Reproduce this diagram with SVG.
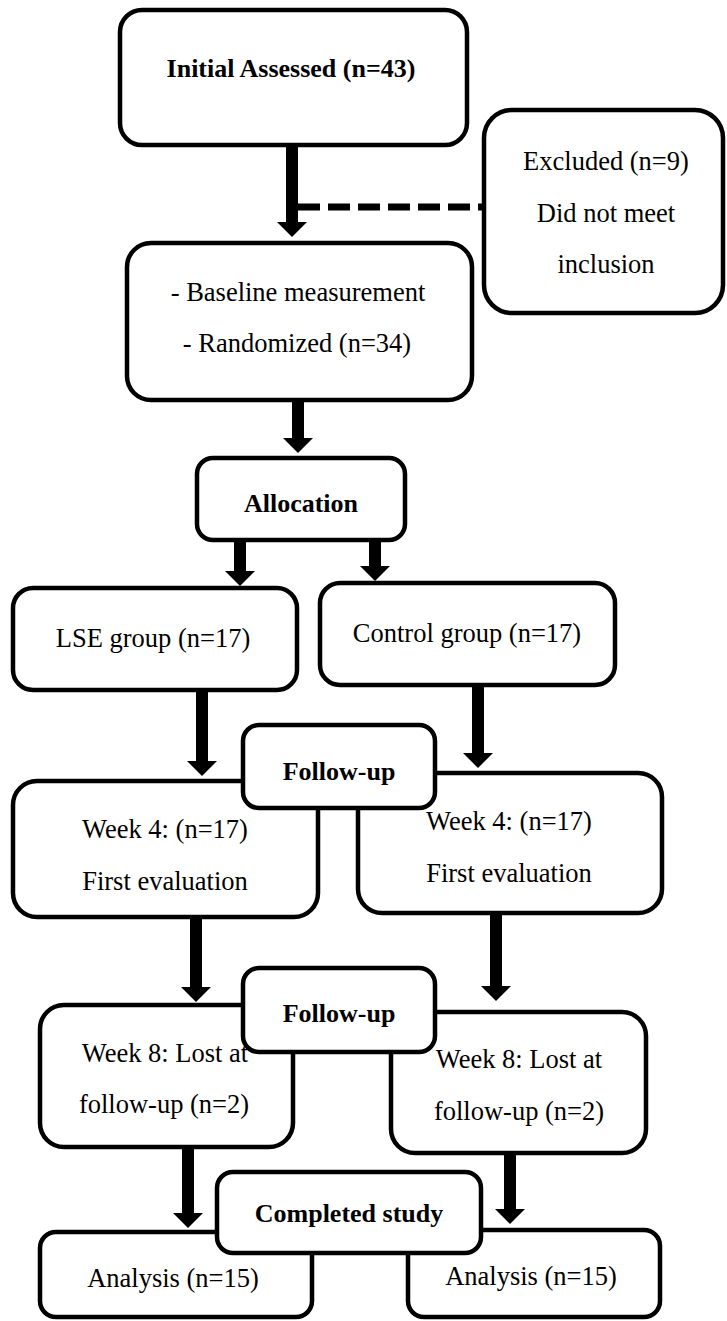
<svg xmlns="http://www.w3.org/2000/svg" width="727" height="1321" viewBox="0 0 727 1321">
<style>
.box{fill:#fff;stroke:#000;stroke-width:4.5}
.t{font-family:"Liberation Serif","Times New Roman",serif;font-size:26.5px;fill:#000;text-anchor:middle}
.b{font-weight:bold;font-size:26px}
.arr{stroke:#000;stroke-width:12;fill:none}
.dash{stroke:#000;stroke-width:7;stroke-dasharray:22 8;fill:none}
</style>
<defs>
<marker id="head" markerUnits="userSpaceOnUse" viewBox="0 -16 16 32" refX="0" refY="0" markerWidth="16" markerHeight="32" orient="auto">
<path d="M0,-15 L15,0 L0,15 Z" fill="#000"/>
</marker>
</defs>
<rect width="727" height="1321" fill="#fff"/>

<g id="n-initial">
<rect class="box" x="120" y="10" width="347" height="135" rx="22"/>
<text class="t b" x="291" y="77">Initial Assessed  (n=43)</text>
</g>
<g id="n-excluded">
<rect class="box" x="484" y="110" width="239" height="203" rx="28"/>
<text class="t" x="606" y="170">Excluded (n=9)</text>
<text class="t" x="606" y="222">Did not meet</text>
<text class="t" x="606" y="273">inclusion</text>
</g>
<g id="n-baseline">
<rect class="box" x="127" y="243" width="345" height="157" rx="24"/>
<text class="t" x="298" y="301">- Baseline measurement</text>
<text class="t" x="297" y="352">- Randomized (n=34)</text>
</g>
<g id="n-allocation">
<rect class="box" x="197" y="458" width="208" height="82" rx="16"/>
<text class="t b" x="301" y="512">Allocation</text>
</g>
<g id="n-lse">
<rect class="box" x="13" y="588" width="284" height="102" rx="20"/>
<text class="t" x="153" y="647">LSE group (n=17)</text>
</g>
<g id="n-control">
<rect class="box" x="320" y="583" width="295" height="102" rx="20"/>
<text class="t" x="467" y="642">Control group (n=17)</text>
</g>
<g id="n-week4-left">
<rect class="box" x="13" y="781" width="305" height="136" rx="24"/>
<text class="t" x="165" y="838">Week 4: (n=17)</text>
<text class="t" x="165" y="890">First evaluation</text>
</g>
<g id="n-week4-right">
<rect class="box" x="358" y="773" width="304" height="140" rx="24"/>
<text class="t" x="509" y="830">Week 4: (n=17)</text>
<text class="t" x="509" y="882">First evaluation</text>
</g>
<g id="n-followup1">
<rect class="box" x="243" y="725" width="192" height="83" rx="16"/>
<text class="t b" x="339" y="780">Follow-up</text>
</g>
<g id="n-week8-left">
<rect class="box" x="40" y="1005" width="253" height="142" rx="24"/>
<text class="t" x="165" y="1062">Week 8: Lost at</text>
<text class="t" x="164" y="1113">follow-up (n=2)</text>
</g>
<g id="n-week8-right">
<rect class="box" x="391" y="1012" width="255" height="141" rx="24"/>
<text class="t" x="519" y="1068">Week 8: Lost at</text>
<text class="t" x="519" y="1120">follow-up (n=2)</text>
</g>
<g id="n-followup2">
<rect class="box" x="243" y="968" width="192" height="84" rx="16"/>
<text class="t b" x="339" y="1022">Follow-up</text>
</g>
<g id="n-analysis-left">
<rect class="box" x="40" y="1232" width="272" height="85" rx="16"/>
<text class="t" x="173" y="1287">Analysis (n=15)</text>
</g>
<g id="n-analysis-right">
<rect class="box" x="408" y="1230" width="252" height="87" rx="16"/>
<text class="t" x="531" y="1285">Analysis (n=15)</text>
</g>
<g id="n-completed">
<rect class="box" x="217" y="1172" width="264" height="81" rx="16"/>
<text class="t b" x="349" y="1222">Completed study</text>
</g>

<g id="connectors">
<line class="dash" x1="298" y1="207" x2="484" y2="207"/>
<line class="arr" x1="292" y1="145" x2="292" y2="222" marker-end="url(#head)"/>
<line class="arr" x1="298" y1="400" x2="298" y2="438" marker-end="url(#head)"/>
<line class="arr" x1="240" y1="540" x2="240" y2="571" marker-end="url(#head)"/>
<line class="arr" x1="375" y1="540" x2="375" y2="566" marker-end="url(#head)"/>
<line class="arr" x1="202" y1="690" x2="202" y2="761" marker-end="url(#head)"/>
<line class="arr" x1="478" y1="685" x2="478" y2="753" marker-end="url(#head)"/>
<line class="arr" x1="196" y1="917" x2="196" y2="987" marker-end="url(#head)"/>
<line class="arr" x1="496" y1="913" x2="496" y2="986" marker-end="url(#head)"/>
<line class="arr" x1="188" y1="1147" x2="188" y2="1213" marker-end="url(#head)"/>
<line class="arr" x1="510" y1="1153" x2="510" y2="1209" marker-end="url(#head)"/>
</g>
</svg>
